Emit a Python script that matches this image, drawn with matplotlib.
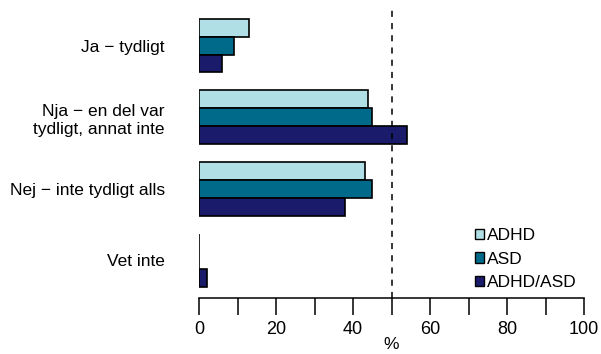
import matplotlib
matplotlib.use("Agg")
import matplotlib.pyplot as plt
import numpy as np
from matplotlib.patches import Patch

categories = ["Ja \u2212 tydligt", "Nja \u2212 en del var\ntydligt, annat inte",
              "Nej \u2212 inte tydligt alls", "Vet inte"]
series = ["ADHD", "ASD", "ADHD/ASD"]
adhd = [13, 44, 43, 0]
asd = [9, 45, 45, 0]
adhd_asd = [6, 54, 38, 2]
colors = ["#B0E0E6", "#006A8B", "#1B1B6B"]
ref_line = 50
xticks = [0, 10, 20, 30, 40, 50, 60, 70, 80, 90, 100]
xticklabels = ["0", "", "20", "", "40", "", "60", "", "80", "", "100"]

plt.rcParams['font.family'] = ['Liberation Sans', 'DejaVu Sans']

W, H = 601, 354
fig = plt.figure(figsize=(W / 100, H / 100), dpi=100)
left, right = 199, 584
top, bottom = 8, 298
ax = fig.add_axes([left / W, 1 - bottom / H, (right - left) / W, (bottom - top) / H])

values = [adhd, asd, adhd_asd]
handles = []
for k, (vals, c, name) in enumerate(zip(values, colors, series)):
    pos = [g * 4 + 1 + k + 0.5 for g in range(len(categories))]
    ax.barh(pos, vals, height=1.0, color=c, edgecolor="black", linewidth=1.2)
    handles.append(Patch(facecolor=c, edgecolor="black", linewidth=1.0, label=name))

ax.set_ylim(16.6, 0.4)
ax.set_xlim(0, 100)
ax.axvline(ref_line, color="black", linestyle=(0, (4, 4)), linewidth=1.1)

centers = [g * 4 + 2.5 for g in range(len(categories))]
ax.set_yticks(centers)
ax.set_yticklabels(categories, fontsize=12.5, ha="right", linespacing=1.3)
ax.tick_params(axis="y", length=0, pad=24.5)

ax.set_xticks(xticks)
ax.set_xticklabels(xticklabels, fontsize=13)
ax.tick_params(axis="x", length=12.5, width=1.1, pad=4)
ax.set_xlabel("%", fontsize=12.5, labelpad=-1)

for s in ["top", "right", "left"]:
    ax.spines[s].set_visible(False)
ax.spines["bottom"].set_linewidth(1.1)
ax.patch.set_visible(False)

ax.legend(handles=handles, loc="upper left", bbox_to_anchor=(468 / W, 1 - 221 / H),
          bbox_transform=fig.transFigure, frameon=False, fontsize=12.5,
          handlelength=0.55, handleheight=0.55, handletextpad=0.15,
          labelspacing=0.5, borderaxespad=0)

fig.savefig("out.png", dpi=100)
